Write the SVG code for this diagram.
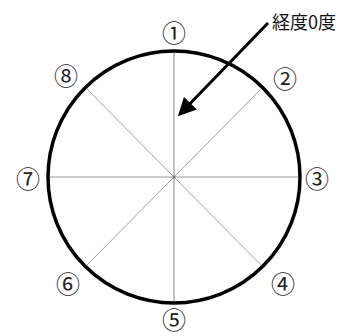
<svg xmlns="http://www.w3.org/2000/svg" width="344" height="336" viewBox="0 0 344 336">
<style>
.lbl{font-family:"Noto Sans CJK JP",sans-serif;font-size:24px;fill:#222;text-anchor:middle;dominant-baseline:central}
.axis{stroke:#9a9a9a;stroke-width:1.2}
.diag{stroke:#8a8a8a;stroke-width:0.8}
</style>
<defs>
<marker id="ah" markerWidth="6" markerHeight="6" refX="5" refY="3" orient="auto" markerUnits="strokeWidth">
<path d="M0,0 L6,3 L0,6 z" fill="#000"/>
</marker>
</defs>
<rect width="344" height="336" fill="#fff"/>
<g id="spokes">
<line class="axis" x1="174" y1="51" x2="174" y2="303"/>
<line class="axis" x1="48" y1="177" x2="300" y2="177"/>
<line class="diag" x1="87" y1="89" x2="261" y2="265"/>
<line class="diag" x1="87" y1="265" x2="261" y2="89"/>
<circle cx="174" cy="177" r="1.5" fill="#777"/>
</g>
<g id="circle"><ellipse cx="174" cy="177" rx="126" ry="126" fill="none" stroke="#000" stroke-width="3.5"/></g>
<g id="n1"><text class="lbl" x="174" y="31">①</text></g>
<g id="n2"><text class="lbl" x="285" y="77">②</text></g>
<g id="n3"><text class="lbl" x="317" y="177">③</text></g>
<g id="n4"><text class="lbl" x="283" y="282">④</text></g>
<g id="n5"><text class="lbl" x="174" y="318">⑤</text></g>
<g id="n6"><text class="lbl" x="68" y="282">⑥</text></g>
<g id="n7"><text class="lbl" x="28" y="177">⑦</text></g>
<g id="n8"><text class="lbl" x="66" y="74">⑧</text></g>
<g id="connectors">
<line x1="268" y1="23" x2="180" y2="114" stroke="#000" stroke-width="3" marker-end="url(#ah)"/>
</g>
<g id="label"><text x="272" y="21" style="font-family:'Noto Sans CJK JP',sans-serif;font-size:18px;fill:#111;dominant-baseline:central">経度0度</text></g>
</svg>
